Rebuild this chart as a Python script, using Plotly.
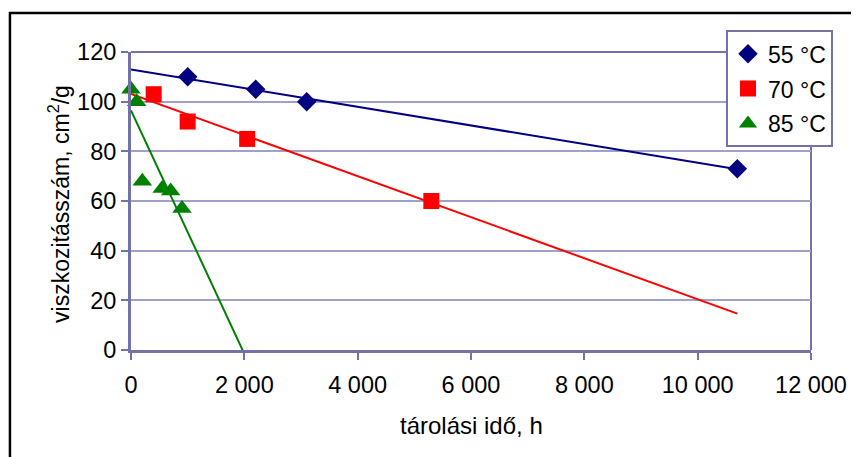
import numpy as np
import plotly.graph_objects as go

# --- data ---
x55 = [1000, 2200, 3100, 10700]
y55 = [110, 105, 100, 73]
x70 = [400, 1000, 2050, 5300]
y70 = [103, 92, 85, 60]
x85 = [0, 100, 200, 550, 700, 900]
y85 = [105, 100, 68, 65, 64, 57]
labels = ["55 °C", "70 °C", "85 °C"]
colors = ["#000080", "#FF0000", "#008000"]
symbols = ["diamond", "square", "triangle-up"]
sizes = [15, 16, 17]
trend_end = 10700

x_tickvals = [0, 2000, 4000, 6000, 8000, 10000, 12000]
x_ticktext = ["0", "2 000", "4 000", "6 000", "8 000", "10 000", "12 000"]
y_tickvals = [0, 20, 40, 60, 80, 100, 120]

series = [(x55, y55), (x70, y70), (x85, y85)]

AX = "#7272A6"
GRID = "#A0A0CC"
FONT = "Liberation Sans, Arial, sans-serif"

fig = go.Figure()
# trend lines (least-squares fits)
for (xs, ys), c in zip(series, colors):
    k, b = np.polyfit(xs, ys, 1)
    xt = np.array([0, trend_end])
    fig.add_trace(go.Scatter(x=xt, y=k * xt + b, mode="lines",
                             line=dict(color=c, width=2), showlegend=False,
                             hoverinfo="skip"))
for i, ((xs, ys), c, s, sz, lab) in enumerate(zip(series, colors, symbols, sizes, labels)):
    fig.add_trace(go.Scatter(x=xs, y=ys, mode="markers", name=lab,
                             legendgroup=f"g{i}",
                             marker=dict(color=c, symbol=s, size=sz,
                                         line=dict(width=0)),
                             cliponaxis=False))

# the page body has an 8px margin, so the figure is drawn 8px smaller
fig.update_layout(
    width=851, height=449,
    margin=dict(l=123, r=48, t=44, b=107, autoexpand=False),
    paper_bgcolor="white", plot_bgcolor="white",
    font=dict(family=FONT, size=23, color="black"),
    showlegend=True,
    legend=dict(x=0.875, y=1.073, xanchor="left", yanchor="top",
                bgcolor="white", bordercolor=AX, borderwidth=2,
                font=dict(size=23), itemsizing="trace",
                tracegroupgap=2),
    xaxis=dict(range=[0, 12000], tickvals=x_tickvals, ticktext=x_ticktext,
               showgrid=False, zeroline=False, automargin=False,
               showline=True, linecolor=AX, linewidth=3, mirror=False,
               ticks="outside", ticklen=7, tickwidth=2, tickcolor=AX,
               ticklabelstandoff=5,
               tickfont=dict(size=23.5)),
    yaxis=dict(range=[0, 120], tickvals=y_tickvals, automargin=False,
               showgrid=True, gridcolor=GRID, gridwidth=1.5, zeroline=False,
               showline=True, linecolor=AX, linewidth=3,
               ticks="outside", ticklen=7, tickwidth=2, tickcolor=AX,
               tickfont=dict(size=23.5)),
    annotations=[
        dict(text="tárolási idő, h", xref="paper", yref="paper",
             x=0.5, y=-0.252, xanchor="center", yanchor="middle",
             showarrow=False, font=dict(size=24)),
        dict(text="viszkozitásszám, cm<sup>2</sup>/g", xref="paper", yref="paper",
             x=-0.106, y=0.49, xanchor="center", yanchor="middle",
             textangle=-90, showarrow=False, font=dict(size=23)),
    ],
)
# right border of plot area
fig.add_shape(type="line", xref="paper", yref="paper", x0=1, x1=1, y0=0, y1=1,
              line=dict(color=AX, width=2), layer="below")
# top border of plot area
fig.add_shape(type="line", xref="paper", yref="paper", x0=0, x1=1, y0=1, y1=1,
              line=dict(color=AX, width=2), layer="below")
# outer chart frame
fig.add_shape(type="rect", xref="paper", yref="paper",
              x0=-0.178, x1=1.09, y0=-0.41, y1=1.131,
              line=dict(color="black", width=2.5), fillcolor="rgba(0,0,0,0)")

fig.write_html("out.html")
